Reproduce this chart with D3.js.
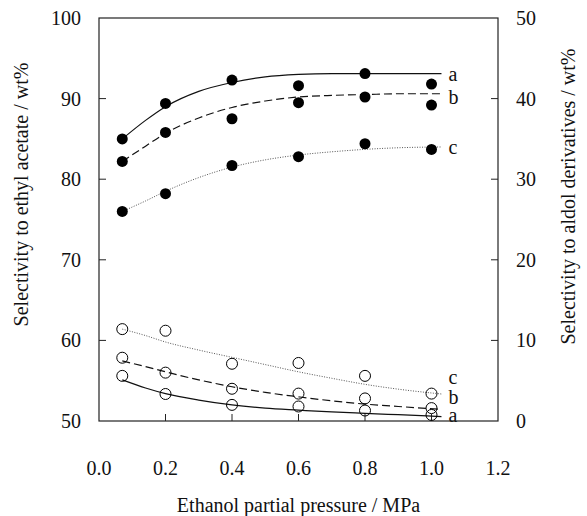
<!DOCTYPE html>
<html>
<head>
<meta charset="utf-8">
<script src="https://cdn.jsdelivr.net/npm/d3@7"></script>
</head>
<body style="margin:0;background:#fff">
<svg id="fig" width="587" height="516" style="display:block"></svg>
<script>
// Ethanol partial pressure (MPa) of each measurement
const pressure = [0.07, 0.2, 0.4, 0.6, 0.8, 1.0];

// Selectivity to ethyl acetate (left axis, wt%) — filled circles
const eaA = [85.0, 89.4, 92.3, 91.6, 93.1, 91.8];
const eaB = [82.2, 85.8, 87.5, 89.5, 90.2, 89.2];
const eaC = [76.0, 78.2, 81.7, 82.8, 84.4, 83.7];

// Selectivity to aldol derivatives (right axis, wt%) — open circles
const alA = [5.6, 3.35, 2.0, 1.8, 1.3, 0.75];
const alB = [7.85, 6.0, 4.0, 3.4, 2.8, 1.6];
const alC = [11.4, 11.2, 7.1, 7.2, 5.6, 3.4];

// Trend curves
const curveX = [0.07, 0.14, 0.2, 0.3, 0.4, 0.5, 0.6, 0.7, 0.8, 0.9, 1.03];
const eaCurveA = [85.0, 87.3, 89.0, 90.9, 92.0, 92.7, 93.0, 93.1, 93.1, 93.1, 93.1];
const eaCurveB = [82.2, 84.1, 85.7, 87.6, 88.9, 89.7, 90.2, 90.4, 90.5, 90.6, 90.6];
const eaCurveC = [76.0, 77.3, 78.5, 80.2, 81.5, 82.4, 83.0, 83.4, 83.7, 83.9, 84.0];
const alCurveA = [5.1, 4.1, 3.4, 2.6, 2.0, 1.6, 1.35, 1.12, 0.95, 0.78, 0.55];
const alCurveB = [7.45, 6.75, 6.1, 5.1, 4.25, 3.55, 3.0, 2.5, 2.1, 1.8, 1.45];
const alCurveC = [11.4, 10.6, 9.8, 8.8, 7.9, 7.0, 6.1, 5.3, 4.55, 3.95, 3.35];

const seriesLabels = ["a", "b", "c"];
const xTicks = [0.0, 0.2, 0.4, 0.6, 0.8, 1.0, 1.2];
const leftTicks = [50, 60, 70, 80, 90, 100];
const rightTicks = [0, 10, 20, 30, 40, 50];

const svg = d3.select("#fig");
const L = 99, R = 498, T = 18, B = 421;

const x = d3.scaleLinear().domain([0, 1.2]).range([L, R]);
const yL = d3.scaleLinear().domain([50, 100]).range([B, T]);
const yR = d3.scaleLinear().domain([0, 50]).range([B, T]);

const fontSize = 20;
const ink = "#111";
const family = '"Liberation Serif", "Times New Roman", serif';

// Text layer with the shared serif typeface
const textLayer = svg.append("g")
  .style("font-family", family, "important")
  .attr("fill", ink);

function label(px, py, str, anchor) {
  return textLayer.append("text")
    .attr("x", px).attr("y", py)
    .attr("text-anchor", anchor)
    .attr("dy", "0.35em")
    .style("font-family", family, "important")
    .style("font-size", fontSize + "px", "important")
    .text(str);
}

// Frame
svg.append("rect")
  .attr("x", L).attr("y", T).attr("width", R - L).attr("height", B - T)
  .attr("fill", "none").attr("stroke", "#222").attr("stroke-width", 1.2);

// Inward tick marks
const tickLen = 7;
const tickG = svg.append("g").attr("stroke", "#222").attr("stroke-width", 1);
xTicks.slice(1, -1).forEach(v => {
  tickG.append("line").attr("x1", x(v)).attr("x2", x(v)).attr("y1", B).attr("y2", B - tickLen);
});
leftTicks.slice(1, -1).forEach(v => {
  tickG.append("line").attr("x1", L).attr("x2", L + tickLen).attr("y1", yL(v)).attr("y2", yL(v));
});
rightTicks.slice(1, -1).forEach(v => {
  tickG.append("line").attr("x1", R).attr("x2", R - tickLen).attr("y1", yR(v)).attr("y2", yR(v));
});

// Tick labels
xTicks.forEach(v => label(x(v), 468, d3.format(".1f")(v), "middle"));
leftTicks.forEach(v => label(81, yL(v), String(v), "end"));
rightTicks.forEach(v => label(516, yR(v), String(v), "start"));

// Axis titles
label((L + R) / 2, 505, "Ethanol partial pressure / MPa", "middle");
label(0, 0, "Selectivity to ethyl acetate / wt%", "middle")
  .attr("transform", `translate(21,${(T + B) / 2 - 25}) rotate(-90)`);
label(0, 0, "Selectivity to aldol derivatives / wt%", "middle")
  .attr("transform", `translate(568,${(T + B) / 2 - 23}) rotate(-90)`);

// Line styles per series
const styles = [
  { dash: null, color: "#111", width: 1.2 },
  { dash: "8,4", color: "#111", width: 1.2 },
  { dash: "1,1.5", color: "#555", width: 1.0 }
];

function drawCurve(vals, scale, s) {
  const line = d3.line()
    .x((d, i) => x(curveX[i]))
    .y(d => scale(d))
    .curve(d3.curveMonotoneX);
  svg.append("path").datum(vals)
    .attr("d", line)
    .attr("fill", "none")
    .attr("stroke", s.color)
    .attr("stroke-width", s.width)
    .attr("stroke-dasharray", s.dash);
}

const eaCurves = [eaCurveA, eaCurveB, eaCurveC];
const alCurves = [alCurveA, alCurveB, alCurveC];
eaCurves.forEach((c, i) => drawCurve(c, yL, styles[i]));
alCurves.forEach((c, i) => drawCurve(c, yR, styles[i]));

// Markers
const eaSets = [eaA, eaB, eaC];
const alSets = [alA, alB, alC];
eaSets.forEach(vals => {
  svg.append("g").selectAll("circle").data(vals).join("circle")
    .attr("cx", (d, i) => x(pressure[i])).attr("cy", d => yL(d))
    .attr("r", 5.5).attr("fill", "#000");
});
alSets.forEach(vals => {
  svg.append("g").selectAll("circle").data(vals).join("circle")
    .attr("cx", (d, i) => x(pressure[i])).attr("cy", d => yR(d))
    .attr("r", 5.5).attr("fill", "none").attr("stroke", "#000").attr("stroke-width", 1);
});

// Series labels at the curve ends
const last = curveX.length - 1;
const labelX = x(curveX[last]) + 7;
const eaLabelY = [yL(eaCurveA[last]), yL(eaCurveB[last]) + 3, yL(eaCurveC[last])];
const alLabelY = [yR(alCurveA[last]) - 2, yR(alCurveB[last]) - 12, yR(alCurveC[last]) - 17];
seriesLabels.forEach((s, i) => label(labelX, eaLabelY[i], s, "start"));
seriesLabels.forEach((s, i) => label(labelX, alLabelY[i], s, "start"));
</script>
</body>
</html>
